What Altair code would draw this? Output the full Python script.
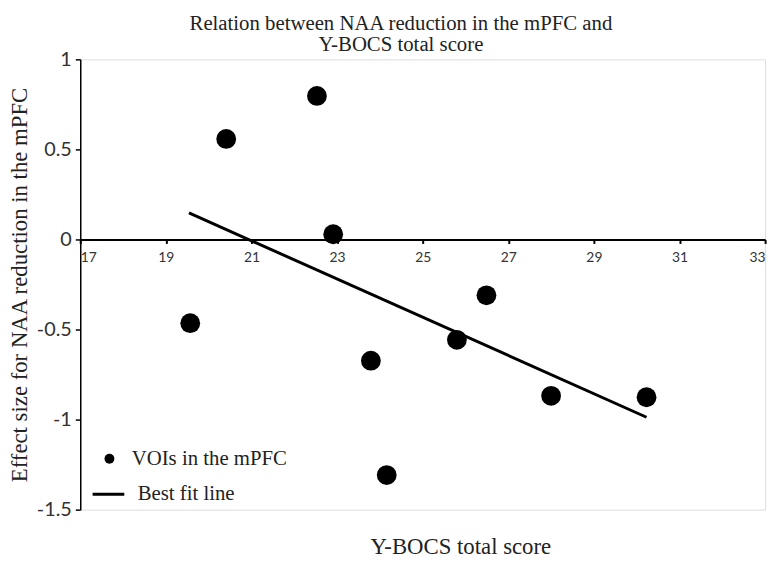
import altair as alt
import pandas as pd

# Data
score = [19.57, 20.41, 22.53, 22.91, 23.79, 24.16, 25.80, 26.49, 28.00, 30.23]
effect = [-0.465, 0.558, 0.797, 0.029, -0.673, -1.308, -0.557, -0.310, -0.868, -0.876]
fit_score = [19.54, 30.23]
fit_effect = [0.148, -0.987]
x_ticks = [17, 19, 21, 23, 25, 27, 29, 31, 33]
y_ticks = [1, 0.5, 0, -0.5, -1, -1.5]
point_label = "VOIs in the mPFC"
line_label = "Best fit line"

pts = pd.DataFrame({"score": score, "effect": effect, "series": point_label})
fit = pd.DataFrame({"score": fit_score, "effect": fit_effect, "series": line_label})

SERIF = "Liberation Serif"
SANS = "Lato"
TXT = "#222222"

W, H = 692, 455

x_scale = alt.Scale(domain=[17, 33], nice=False, zero=False)
y_scale = alt.Scale(domain=[-1.5, 1], nice=False, zero=False)

x_axis = alt.Axis(
    values=x_ticks, format="d", offset=-273,
    domainColor="black", domainWidth=2, tickColor="black", tickWidth=2, tickSize=4,
    labelFont=SANS, labelFontSize=14, labelColor="#333333", labelPadding=7,
    grid=False, title="Y-BOCS total score", titleFont=SERIF, titleFontSize=23,
    titleFontWeight="normal", titleColor=TXT, titleX=384, titleY=317,
    titleAlign="center", titleBaseline="alphabetic",
)
y_axis = alt.Axis(
    values=y_ticks, labelExpr="toString(datum.value)",
    domainColor="black", domainWidth=1.5, tickColor="black",
    tickWidth=1.5, tickSize=5, labelFont=SANS, labelFontSize=20,
    labelColor="#333333", labelPadding=4, grid=False,
    title="Effect size for NAA reduction in the mPFC", titleFont=SERIF,
    titleFontSize=23, titleFontWeight="normal", titleColor=TXT,
    titleAngle=270, titleX=-54, titleY=227.5, titleAlign="center",
    titleBaseline="alphabetic",
)

points = alt.Chart(pts).mark_circle(size=400, opacity=1, color="black").encode(
    x=alt.X("score:Q", scale=x_scale, axis=x_axis),
    y=alt.Y("effect:Q", scale=y_scale, axis=y_axis),
    fill=alt.Fill(
        "series:N",
        scale=alt.Scale(domain=[point_label], range=["black"]),
        legend=alt.Legend(
            orient="none", legendX=19, legendY=393, title=None,
            symbolType="circle", symbolSize=100, symbolFillColor="black",
            symbolStrokeWidth=0, labelFont=SERIF, labelFontSize=21,
            labelColor=TXT, labelOffset=12,
        ),
    ),
)

line = alt.Chart(fit).mark_line(color="black", strokeWidth=3).encode(
    x=alt.X("score:Q", scale=x_scale),
    y=alt.Y("effect:Q", scale=y_scale),
    stroke=alt.Stroke(
        "series:N",
        scale=alt.Scale(domain=[line_label], range=["black"]),
        legend=alt.Legend(
            orient="none", legendX=11, legendY=422, title=None,
            symbolType="stroke", symbolSize=1024, symbolStrokeColor="black",
            symbolStrokeWidth=3, labelFont=SERIF, labelFontSize=21,
            labelColor=TXT, labelOffset=12,
        ),
    ),
)

chart = alt.layer(line, points).resolve_legend(fill="independent", stroke="independent").properties(
    width=W,
    height=H,
    autosize=alt.AutoSizeParams(type="none"),
    padding={"left": 73, "top": 49, "right": 10, "bottom": 48},
    title=alt.TitleParams(
        text=["Relation between NAA reduction in the mPFC and", "Y-BOCS total score"],
        font=SERIF, fontSize=21, fontWeight="normal", color=TXT,
        anchor="middle", dx=-22, lineHeight=22, offset=-6,
    ),
).configure_view(stroke=None).configure(background="white")

chart.save("out.html", embed_options={"renderer": "svg", "actions": False})
